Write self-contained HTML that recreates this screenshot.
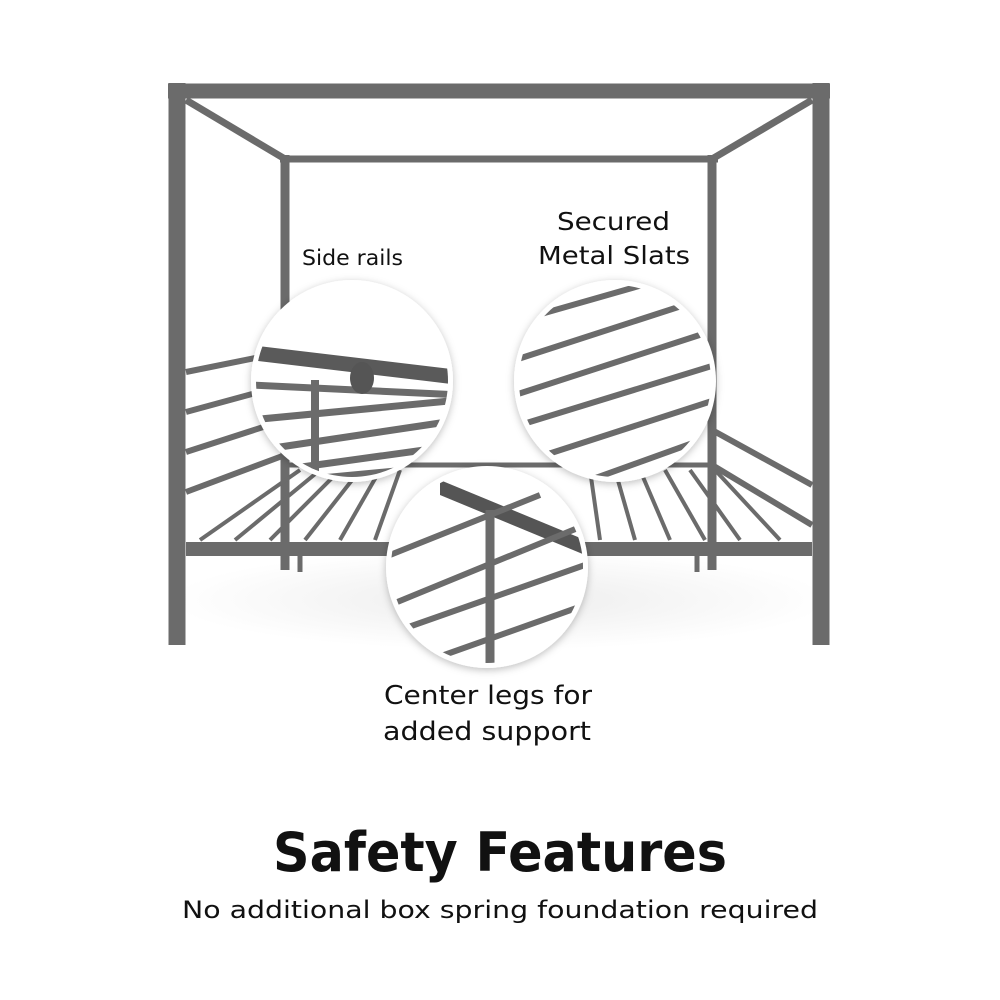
<!DOCTYPE html>
<html><head><meta charset="utf-8"><style>
html,body{margin:0;padding:0;background:#fff;width:1000px;height:1000px;overflow:hidden}
svg{display:block}
text{font-family:"DejaVu Sans","Liberation Sans",sans-serif;fill:#111}
</style></head><body>
<svg width="1000" height="1000" viewBox="0 0 1000 1000" xmlns="http://www.w3.org/2000/svg">
<defs>
<radialGradient id="fl" cx="0.5" cy="0.5" r="0.5"><stop offset="0" stop-color="#ececec"/><stop offset="1" stop-color="#fff"/></radialGradient>
<filter id="sh" x="-20%" y="-20%" width="140%" height="140%"><feDropShadow dx="0" dy="2" stdDeviation="4" flood-color="#000" flood-opacity="0.25"/></filter>
<clipPath id="c1"><circle cx="352" cy="381" r="96"/></clipPath>
<clipPath id="c2"><circle cx="615" cy="381" r="96"/></clipPath>
<clipPath id="c3"><circle cx="487" cy="567" r="96"/></clipPath>
</defs>
<ellipse cx="500" cy="600" rx="330" ry="50" fill="url(#fl)"/>
<g stroke="#6b6b6b" fill="none">
<line x1="280" y1="159" x2="718" y2="159" stroke-width="7"/>
<line x1="285" y1="155" x2="285" y2="570" stroke-width="9"/>
<line x1="712" y1="155" x2="712" y2="570" stroke-width="9"/>
<line x1="186" y1="100" x2="285" y2="159" stroke-width="7"/>
<line x1="812" y1="100" x2="712" y2="159" stroke-width="7"/>
<line x1="186" y1="372" x2="285" y2="352" stroke-width="6"/>
<line x1="186" y1="412" x2="285" y2="385" stroke-width="6"/>
<line x1="186" y1="452" x2="285" y2="420" stroke-width="6"/>
<line x1="186" y1="492" x2="285" y2="455" stroke-width="6"/>
<line x1="812" y1="485" x2="712" y2="430" stroke-width="6"/>
<line x1="812" y1="525" x2="712" y2="465" stroke-width="6"/>
<line x1="285" y1="465" x2="712" y2="465" stroke-width="5"/>
<g stroke-width="4">
<line x1="200" y1="540" x2="300" y2="470"/><line x1="235" y1="540" x2="320" y2="470"/>
<line x1="270" y1="540" x2="340" y2="470"/><line x1="305" y1="540" x2="360" y2="470"/>
<line x1="340" y1="540" x2="380" y2="470"/><line x1="375" y1="540" x2="400" y2="470"/>
<line x1="600" y1="540" x2="590" y2="470"/><line x1="635" y1="540" x2="615" y2="470"/>
<line x1="670" y1="540" x2="640" y2="470"/><line x1="705" y1="540" x2="665" y2="470"/>
<line x1="740" y1="540" x2="690" y2="470"/><line x1="780" y1="540" x2="715" y2="470"/>
</g>
<line x1="300" y1="545" x2="300" y2="572" stroke-width="5"/>
<line x1="697" y1="545" x2="697" y2="572" stroke-width="5"/>
<line x1="186" y1="549" x2="812" y2="549" stroke-width="14"/>
<line x1="177" y1="83" x2="177" y2="645" stroke-width="17"/>
<line x1="821" y1="83" x2="821" y2="645" stroke-width="17"/>
<line x1="168" y1="91" x2="830" y2="91" stroke-width="15"/>
</g>
<g filter="url(#sh)"><circle cx="352" cy="381" r="101" fill="#fff"/><circle cx="615" cy="381" r="101" fill="#fff"/><circle cx="487" cy="567" r="101" fill="#fff"/></g>
<g clip-path="url(#c1)" stroke="#6b6b6b" fill="none">
<polygon points="250,345 460,370 460,385 250,360" fill="#5a5a5a" stroke="none"/>
<g stroke-width="7"><line x1="250" y1="385" x2="460" y2="395"/><line x1="250" y1="420" x2="460" y2="400"/><line x1="260" y1="450" x2="460" y2="420"/><line x1="280" y1="470" x2="460" y2="445"/><line x1="300" y1="480" x2="460" y2="465"/></g>
<line x1="315" y1="380" x2="315" y2="480" stroke-width="8"/>
<ellipse cx="362" cy="378" rx="12" ry="16" fill="#555" stroke="none"/>
</g>
<g clip-path="url(#c2)" stroke="#6b6b6b" stroke-width="6">
<line x1="520" y1="320" x2="660" y2="280"/><line x1="515" y1="360" x2="700" y2="300"/>
<line x1="515" y1="395" x2="715" y2="330"/><line x1="520" y1="425" x2="715" y2="365"/>
<line x1="545" y1="455" x2="715" y2="400"/><line x1="590" y1="480" x2="715" y2="435"/>
</g>
<g clip-path="url(#c3)" stroke="#6b6b6b" fill="none">
<polygon points="440,480 585,540 585,555 440,495" fill="#555" stroke="none"/>
<g stroke-width="6"><line x1="390" y1="555" x2="540" y2="495"/><line x1="390" y1="605" x2="585" y2="525"/><line x1="400" y1="630" x2="585" y2="565"/><line x1="430" y1="660" x2="585" y2="605"/></g>
<line x1="490" y1="510" x2="490" y2="670" stroke-width="9"/>
</g>
<text x="302" y="265" font-size="21" textLength="101" lengthAdjust="spacingAndGlyphs">Side rails</text>
<text x="557" y="230" font-size="25" textLength="113" lengthAdjust="spacingAndGlyphs">Secured</text>
<text x="538" y="264" font-size="25" textLength="152" lengthAdjust="spacingAndGlyphs">Metal Slats</text>
<text x="384" y="704" font-size="26" textLength="208" lengthAdjust="spacingAndGlyphs">Center legs for</text>
<text x="383" y="740" font-size="26" textLength="208" lengthAdjust="spacingAndGlyphs">added support</text>
<text x="273" y="871" font-size="54" font-weight="bold" textLength="454" lengthAdjust="spacingAndGlyphs">Safety Features</text>
<text x="182" y="918" font-size="24" textLength="636" lengthAdjust="spacingAndGlyphs">No additional box spring foundation required</text>
</svg>
</body></html>
